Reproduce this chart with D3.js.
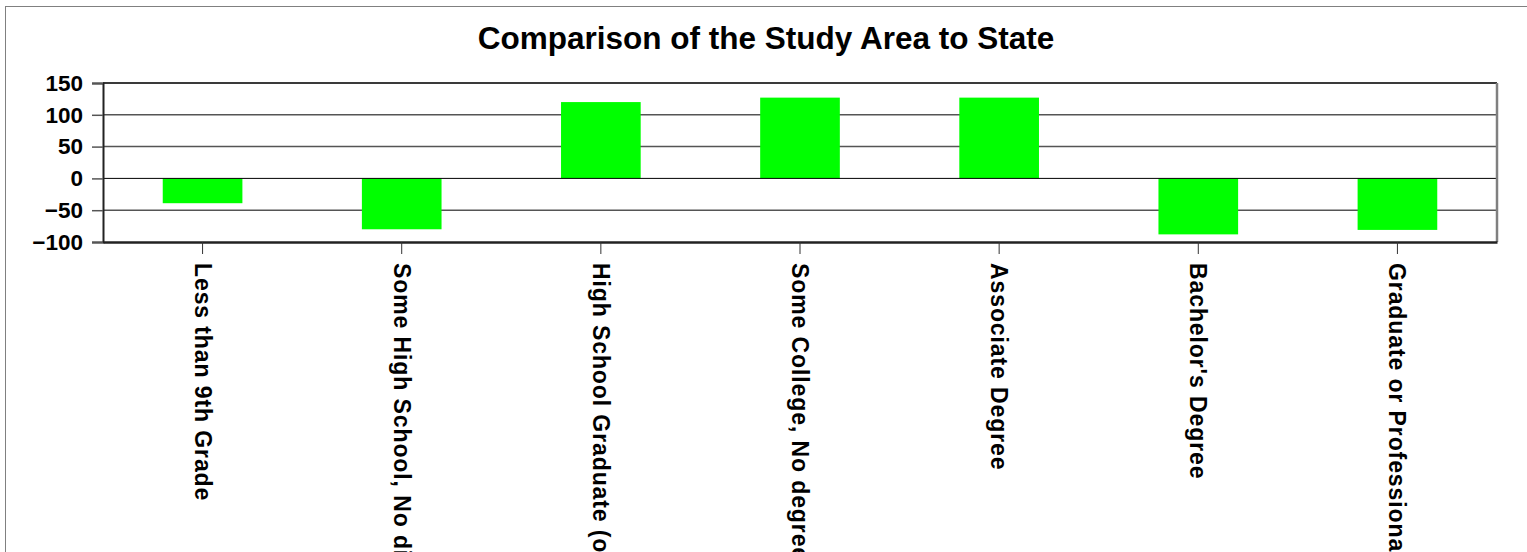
<!DOCTYPE html>
<html>
<head>
<meta charset="utf-8">
<script src="https://cdn.jsdelivr.net/npm/d3@7"></script>
<style>
  html, body { margin: 0; padding: 0; background: #fff; }
  svg { display: block; font-family: "Liberation Sans", Arial, sans-serif; }
</style>
</head>
<body>
<svg id="chart" width="1527" height="552"></svg>
<script>
const categories = [
  "Less than 9th Grade",
  "Some High School, No diploma",
  "High School Graduate (or equivalency)",
  "Some College, No degree",
  "Associate Degree",
  "Bachelor's Degree",
  "Graduate or Professional Degree"
];
const values = [-39, -80, 120, 127, 127, -88, -81];
const yTicks = [-100, -50, 0, 50, 100, 150];
const title = "Comparison of the Study Area to State";

const svg = d3.select("#chart");
const W = 1527, H = 552;
const plot = { left: 103, right: 1497, top: 83, bottom: 242 };

// outer chart border
svg.append("rect")
  .attr("x", 5.5).attr("y", 6.5)
  .attr("width", W - 5).attr("height", H)
  .attr("fill", "#fff").attr("stroke", "#808080").attr("stroke-width", 1);

const x = d3.scaleBand().domain(categories).range([plot.left, plot.right]).padding(0);
const y = d3.scaleLinear().domain([-100, 150]).range([plot.bottom, plot.top]);

// title
svg.append("text")
  .attr("x", 766)
  .attr("y", 49)
  .attr("text-anchor", "middle")
  .attr("font-size", 31.5)
  .attr("font-weight", "bold")
  .attr("fill", "#000")
  .text(title);

// gridlines
svg.append("g")
  .selectAll("line")
  .data(yTicks.filter(t => t !== 0 && t !== -100))
  .join("line")
  .attr("x1", plot.left).attr("x2", plot.right)
  .attr("y1", d => y(d)).attr("y2", d => y(d))
  .attr("stroke", "#555").attr("stroke-width", 1.5);

// bars
const bw = x.bandwidth() * 0.4;
svg.append("g")
  .selectAll("rect")
  .data(categories.map((c, i) => ({ c, v: values[i] })))
  .join("rect")
  .attr("x", d => x(d.c) + x.bandwidth() / 2 - bw / 2)
  .attr("width", bw)
  .attr("y", d => y(Math.max(0, d.v)))
  .attr("height", d => Math.abs(y(d.v) - y(0)))
  .attr("fill", "#00ff00");

// zero line
svg.append("line")
  .attr("x1", plot.left).attr("x2", plot.right)
  .attr("y1", y(0)).attr("y2", y(0))
  .attr("stroke", "#000").attr("stroke-width", 1);

// plot frame
svg.append("line").attr("x1", plot.left).attr("x2", plot.right)
  .attr("y1", plot.top).attr("y2", plot.top)
  .attr("stroke", "#3a3a3a").attr("stroke-width", 2);
svg.append("line").attr("x1", plot.right).attr("x2", plot.right)
  .attr("y1", plot.top).attr("y2", plot.bottom)
  .attr("stroke", "#808080").attr("stroke-width", 2.5);

// y axis
const yAxis = d3.axisLeft(y).tickValues(yTicks).tickSize(11).tickPadding(9).tickFormat(d3.format("d"));
const gy = svg.append("g").attr("transform", `translate(${plot.left},0)`).call(yAxis);
gy.select(".domain").attr("stroke", "#222").attr("stroke-width", 2);
gy.selectAll(".tick line").attr("stroke", "#555").attr("stroke-width", 1.5);
gy.selectAll(".tick text")
  .attr("font-size", 22.5).attr("font-weight", "bold").attr("fill", "#000")
  .attr("font-family", "'Liberation Sans', Arial, sans-serif");

// x axis
const xAxis = d3.axisBottom(x).tickSize(12).tickSizeOuter(0).tickPadding(0);
const gx = svg.append("g").attr("transform", `translate(0,${plot.bottom})`).call(xAxis);
gx.select(".domain").attr("stroke", "#222").attr("stroke-width", 2.5);
gx.selectAll(".tick line").attr("stroke", "#333").attr("stroke-width", 1);
gx.selectAll(".tick text")
  .attr("font-size", 23).attr("font-weight", "bold").attr("fill", "#000")
  .attr("font-family", "'Liberation Sans', Arial, sans-serif")
  .attr("text-anchor", "start")
  .attr("transform", "rotate(90)")
  .attr("x", 21).attr("y", 0).attr("dy", "0.35em")
  .style("letter-spacing", "0.9px");
</script>
</body>
</html>
